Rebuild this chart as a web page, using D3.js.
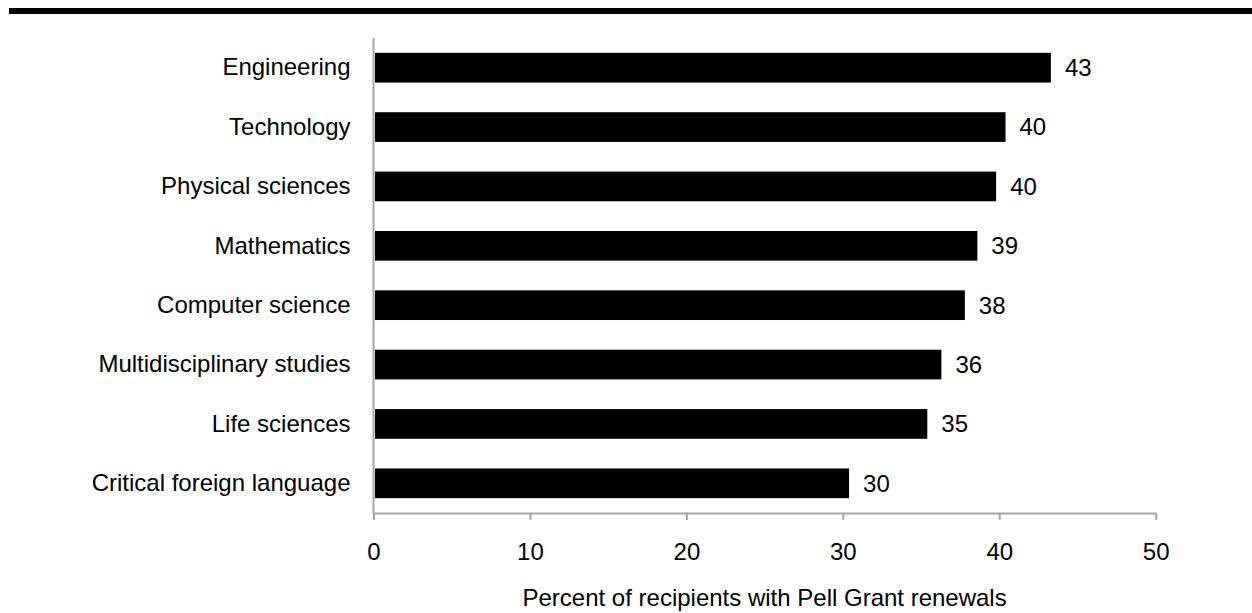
<!DOCTYPE html>
<html>
<head>
<meta charset="utf-8">
<script src="https://cdn.jsdelivr.net/npm/d3@7"></script>
<style>
  html, body { margin: 0; padding: 0; background: #fff; }
  svg { display: block; font-family: "Liberation Sans", Arial, Helvetica, sans-serif; }
</style>
</head>
<body>
<svg id="chart" width="1252" height="613"></svg>
<script>
// Fields of study, top to bottom
const categories = [
  "Engineering",
  "Technology",
  "Physical sciences",
  "Mathematics",
  "Computer science",
  "Multidisciplinary studies",
  "Life sciences",
  "Critical foreign language"
];
// Percent of recipients with Pell Grant renewals
const values = [43.3, 40.4, 39.8, 38.6, 37.8, 36.3, 35.4, 30.4];
const xTicks = [0, 10, 20, 30, 40, 50];
const xTitle = "Percent of recipients with Pell Grant renewals";

const svg = d3.select("#chart");
const W = 1252, H = 613;
const fontSize = 24;
const axisGray = "#a6a6a6";

// Heavy rule across the top
svg.append("rect")
  .attr("x", 9).attr("y", 8)
  .attr("width", W - 9).attr("height", 6)
  .attr("fill", "#000");

const x = d3.scaleLinear().domain([0, 50]).range([373.5, 1155.7]);
const y = d3.scaleBand().domain(categories).range([38, 513])
  .paddingInner(0.5).paddingOuter(0.25);

const data = categories.map((c, i) => ({ cat: c, v: values[i] }));

// Bars
svg.append("g").selectAll("rect").data(data).join("rect")
  .attr("x", x(0) + 1.5)
  .attr("y", d => y(d.cat))
  .attr("width", d => x(d.v) - x(0) - 1.5)
  .attr("height", y.bandwidth())
  .attr("fill", "#000");

// Value labels
svg.append("g").selectAll("text").data(data).join("text")
  .attr("x", d => x(d.v) + 14)
  .attr("y", d => y(d.cat) + y.bandwidth() / 2)
  .attr("dy", "0.35em")
  .attr("font-size", fontSize)
  .attr("fill", "#000")
  .text(d => d3.format(".0f")(d.v));

// Category axis
const yAxis = svg.append("g")
  .attr("transform", `translate(${x(0)},0)`)
  .call(d3.axisLeft(y).tickSize(0).tickPadding(23));
yAxis.select(".domain").attr("stroke", axisGray).attr("stroke-width", 2)
  .attr("d", `M0,38V513`);
yAxis.selectAll("text")
  .attr("font-size", fontSize)
  .attr("font-family", "Liberation Sans, Arial, sans-serif")
  .attr("fill", "#000");

// Value axis
const xAxis = svg.append("g")
  .attr("transform", `translate(0,513)`)
  .call(d3.axisBottom(x).tickValues(xTicks).tickSize(7).tickPadding(23)
    .tickSizeOuter(0).tickFormat(d3.format("d")));
xAxis.select(".domain").attr("stroke", axisGray).attr("stroke-width", 2);
xAxis.selectAll(".tick line").attr("stroke", axisGray).attr("stroke-width", 2);
xAxis.selectAll("text")
  .attr("font-size", fontSize)
  .attr("font-family", "Liberation Sans, Arial, sans-serif")
  .attr("fill", "#000");

// Axis title
svg.append("text")
  .attr("x", (x(0) + x(50)) / 2)
  .attr("y", 606)
  .attr("text-anchor", "middle")
  .attr("font-size", fontSize)
  .attr("fill", "#000")
  .text(xTitle);
</script>
</body>
</html>
